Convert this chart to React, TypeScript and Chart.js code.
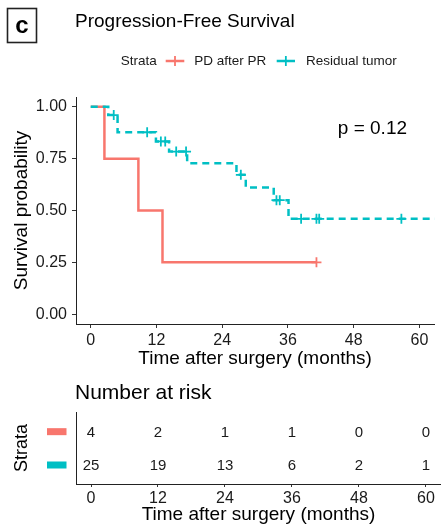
import React, { useEffect, useRef } from 'react';
import { Chart, registerables } from 'chart.js';

Chart.register(...registerables);

const FONT = "'Liberation Sans', Arial, Helvetica, sans-serif";
const RED = '#F8766D';
const TEAL = '#00BFC4';
const INK = '#1a1a1a';

// ---- data ----
const xTicks = [0, 12, 24, 36, 48, 60];
const yTicks = [0, 0.25, 0.5, 0.75, 1];
const strataNames = ['PD after PR', 'Residual tumor'];
const titleText = 'Progression-Free Survival';
const xTitle = 'Time after surgery (months)';
const yTitle = 'Survival probability';
const pValueText = 'p = 0.12';

const pdTimes = [0, 2.5, 8.7, 13.1, 41.2];
const pdSurv = [1, 0.75, 0.5, 0.25, 0.25];
const pdCensorTimes = [41.2];
const pdCensorSurv = [0.25];

const resTimes = [0, 3.2, 4.9, 11.9, 14.3, 17.6, 26.6, 28.3, 33.4, 36.1, 64];
const resSurv = [1, 0.96, 0.877, 0.833, 0.784, 0.728, 0.672, 0.611, 0.55, 0.46, 0.46];
const resCensorTimes = [4.2, 10.3, 12.8, 13.6, 15.6, 17.4, 27.4, 33.9, 34.5, 38.4, 41.2, 41.7, 56.7, 64];
const resCensorSurv = [0.96, 0.877, 0.833, 0.833, 0.784, 0.784, 0.672, 0.55, 0.55, 0.46, 0.46, 0.46, 0.46, 0.46];

const riskTimes = [0, 12, 24, 36, 48, 60];
const pdRisk = [4, 2, 1, 1, 0, 0];
const resRisk = [25, 19, 13, 6, 2, 1];

const X_MIN = -2.687;
const X_MAX = 62.69;

const pts = (xs: number[], ys: number[]) => xs.map((x, i) => ({ x, y: ys[i] }));

const xScaleBase = (height: number, tickLength: number, pad: number, titlePad: number) => ({
  type: 'linear' as const,
  min: X_MIN,
  max: X_MAX,
  afterBuildTicks: (s: any) => {
    s.ticks = xTicks.map((v) => ({ value: v }));
  },
  afterFit: (s: any) => {
    s.height = height;
  },
  ticks: {
    font: { family: FONT, size: 16 },
    color: INK,
    padding: pad,
    maxRotation: 0,
    callback: (v: any) => String(v),
  },
  grid: { drawOnChartArea: false, drawTicks: true, tickLength, color: '#333', lineWidth: 1 },
  border: { display: true, color: '#222', width: 1 },
  title: {
    display: true,
    text: xTitle,
    color: '#000',
    font: { family: FONT, size: 19, lineHeight: 1 },
    padding: { top: 0, bottom: titlePad },
  },
});

const mainPlugin = {
  id: 'mainDecor',
  afterDraw(chart: any) {
    const ctx = chart.ctx;
    ctx.save();
    // panel tag
    ctx.strokeStyle = '#222';
    ctx.lineWidth = 1.6;
    ctx.strokeRect(7.5, 8.5, 29, 34);
    ctx.fillStyle = '#000';
    ctx.font = `bold 24px ${FONT}`;
    ctx.textAlign = 'center';
    ctx.textBaseline = 'middle';
    ctx.fillText('c', 22, 26);
    // title
    ctx.textAlign = 'left';
    ctx.font = `19px ${FONT}`;
    ctx.fillText(titleText, 75, 22);
    // legend
    ctx.font = `13.5px ${FONT}`;
    ctx.fillStyle = INK;
    const ly = 61;
    ctx.fillText('Strata', 120.7, ly);
    const drawKey = (x0: number, x1: number, color: string) => {
      ctx.strokeStyle = color;
      ctx.lineWidth = 2.5;
      ctx.beginPath();
      ctx.moveTo(x0, ly);
      ctx.lineTo(x1, ly);
      ctx.stroke();
      const cx = (x0 + x1) / 2;
      ctx.lineWidth = 1.8;
      ctx.beginPath();
      ctx.moveTo(cx, ly - 5);
      ctx.lineTo(cx, ly + 5);
      ctx.stroke();
    };
    drawKey(165.7, 184.3, RED);
    ctx.fillStyle = INK;
    ctx.fillText(strataNames[0], 194.3, ly);
    drawKey(276.7, 295, TEAL);
    ctx.fillStyle = INK;
    ctx.fillText(strataNames[1], 306, ly);
    // p value
    const xs = chart.scales.x;
    const ys = chart.scales.y;
    ctx.font = `19px ${FONT}`;
    ctx.fillStyle = '#000';
    ctx.fillText(pValueText, xs.getPixelForValue(45.1), ys.getPixelForValue(0.896));
    ctx.restore();
  },
};

const riskPlugin = {
  id: 'riskDecor',
  afterDraw(chart: any) {
    const ctx = chart.ctx;
    ctx.save();
    ctx.fillStyle = '#000';
    ctx.font = `21px ${FONT}`;
    ctx.textAlign = 'left';
    ctx.textBaseline = 'middle';
    ctx.fillText('Number at risk', 75, 18.3);
    // numbers
    ctx.font = `15px ${FONT}`;
    ctx.textAlign = 'center';
    ctx.fillStyle = INK;
    chart.data.datasets.forEach((ds: any, di: number) => {
      const meta = chart.getDatasetMeta(di);
      meta.data.forEach((el: any, j: number) => {
        ctx.fillText(String(ds.data[j].n), el.x, el.y + 1);
      });
      // strata swatch
      const y = chart.scales.y.getPixelForValue(ds.data[0].y);
      ctx.fillStyle = ds.swatch;
      ctx.fillRect(47, y - 3.5, 19.5, 7);
      ctx.fillStyle = INK;
    });
    ctx.restore();
  },
};

function MainChart() {
  const ref = useRef<HTMLCanvasElement | null>(null);
  useEffect(() => {
    if (!ref.current) return;
    const chart = new Chart(ref.current, {
      type: 'line',
      data: {
        datasets: [
          {
            label: strataNames[1],
            data: pts(resTimes, resSurv),
            borderColor: TEAL,
            borderWidth: 2.5,
            borderDash: [7, 5],
            stepped: 'before',
            pointRadius: 0,
            fill: false,
            order: 1,
          } as any,
          {
            label: strataNames[1] + ' censored',
            data: pts(resCensorTimes, resCensorSurv),
            showLine: false,
            pointStyle: 'cross',
            pointRadius: 5,
            pointBorderColor: TEAL,
            pointBorderWidth: 1.8,
            order: 0,
          } as any,
          {
            label: strataNames[0],
            data: pts(pdTimes, pdSurv),
            borderColor: RED,
            borderWidth: 2.5,
            stepped: 'before',
            pointRadius: 0,
            fill: false,
            order: 3,
          } as any,
          {
            label: strataNames[0] + ' censored',
            data: pts(pdCensorTimes, pdCensorSurv),
            showLine: false,
            pointStyle: 'cross',
            pointRadius: 5,
            pointBorderColor: RED,
            pointBorderWidth: 1.8,
            order: 2,
          } as any,
        ],
      },
      options: {
        animation: false,
        responsive: false,
        maintainAspectRatio: false,
        events: [],
        layout: { padding: { top: 97, left: 0, right: 0, bottom: 0 } },
        plugins: { legend: { display: false }, tooltip: { enabled: false }, title: { display: false } },
        scales: {
          x: xScaleBase(51, 4, 3, 7.2) as any,
          y: {
            type: 'linear',
            min: -0.047,
            max: 1.047,
            afterBuildTicks: (s: any) => {
              s.ticks = yTicks.map((v) => ({ value: v }));
            },
            afterFit: (s: any) => {
              s.width = 76;
            },
            ticks: {
              font: { family: FONT, size: 16 },
              color: INK,
              padding: 5,
              callback: (v: any) => Number(v).toFixed(2),
            },
            grid: { drawOnChartArea: false, drawTicks: true, tickLength: 4, color: '#333', lineWidth: 1 },
            border: { display: true, color: '#222', width: 1 },
            title: {
              display: true,
              text: yTitle,
              color: '#000',
              font: { family: FONT, size: 19, lineHeight: 1 },
              padding: { top: 12, bottom: 0 },
            },
          } as any,
        },
      },
      plugins: [mainPlugin],
    });
    return () => chart.destroy();
  }, []);
  return (
    <canvas
      ref={ref}
      width={441}
      height={375}
      style={{ position: 'absolute', left: 0, top: 0, width: 441, height: 375, display: 'block' }}
    />
  );
}

function RiskTable() {
  const ref = useRef<HTMLCanvasElement | null>(null);
  useEffect(() => {
    if (!ref.current) return;
    const chart = new Chart(ref.current, {
      type: 'line',
      data: {
        datasets: [
          {
            label: strataNames[0],
            data: riskTimes.map((t, i) => ({ x: t, y: 1, n: pdRisk[i] })),
            showLine: false,
            pointRadius: 0,
            swatch: RED,
          } as any,
          {
            label: strataNames[1],
            data: riskTimes.map((t, i) => ({ x: t, y: 2, n: resRisk[i] })),
            showLine: false,
            pointRadius: 0,
            swatch: TEAL,
          } as any,
        ],
      },
      options: {
        animation: false,
        responsive: false,
        maintainAspectRatio: false,
        events: [],
        layout: { padding: { top: 37, left: 0, right: 0, bottom: 0 } },
        plugins: { legend: { display: false }, tooltip: { enabled: false }, title: { display: false } },
        scales: {
          x: xScaleBase(45, 3, 2, 4.5) as any,
          y: {
            type: 'linear',
            min: 0.41,
            max: 2.57,
            reverse: true,
            afterBuildTicks: (s: any) => {
              s.ticks = [1, 2].map((v) => ({ value: v }));
            },
            afterFit: (s: any) => {
              s.width = 76;
            },
            ticks: { display: false },
            grid: { drawOnChartArea: false, drawTicks: false },
            border: { display: true, color: '#222', width: 1 },
            title: {
              display: true,
              text: 'Strata',
              color: '#000',
              font: { family: FONT, size: 18, lineHeight: 1 },
              padding: { top: 12.7, bottom: 0 },
            },
          } as any,
        },
      },
      plugins: [riskPlugin],
    });
    return () => chart.destroy();
  }, []);
  return (
    <canvas
      ref={ref}
      width={441}
      height={154}
      style={{ position: 'absolute', left: 0, top: 375, width: 441, height: 154, display: 'block' }}
    />
  );
}

export default function App() {
  return (
    <div
      style={{
        position: 'fixed',
        left: 0,
        top: 0,
        width: 441,
        height: 529,
        background: '#fff',
        overflow: 'hidden',
      }}
    >
      <MainChart />
      <RiskTable />
    </div>
  );
}
